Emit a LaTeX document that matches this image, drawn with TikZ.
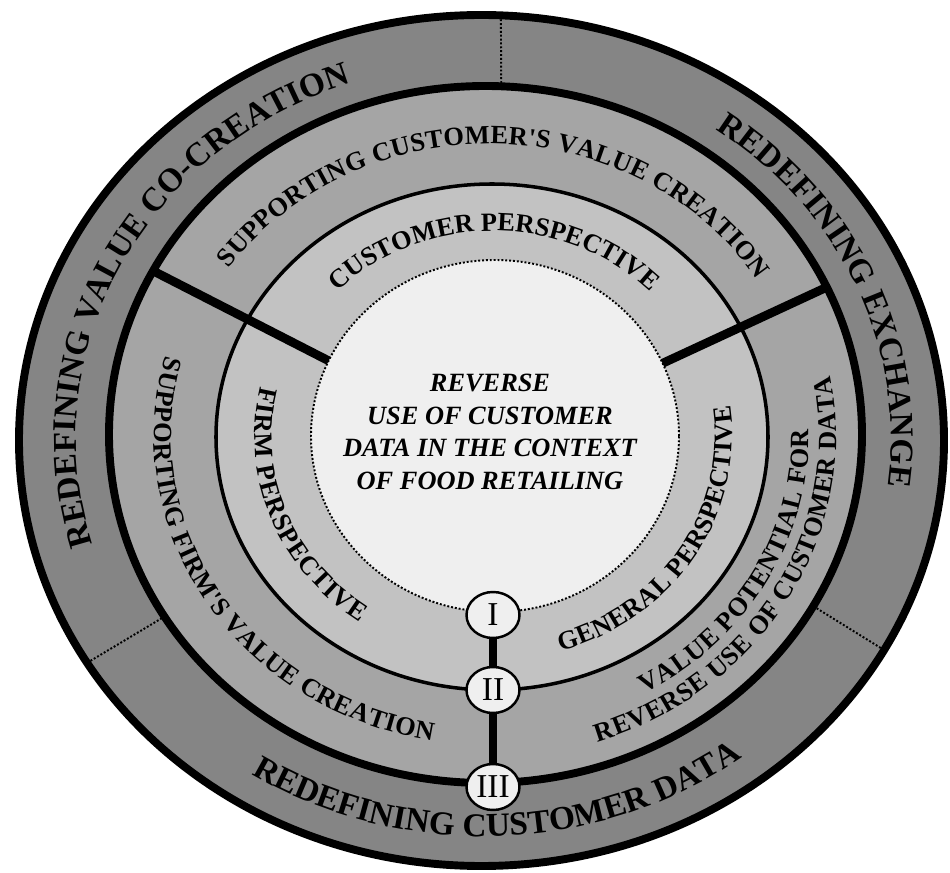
\documentclass[tikz,border=0pt]{standalone}
\usepackage{fontspec}
\setmainfont{Liberation Serif}[Ligatures=TeXOff]
\usetikzlibrary{decorations.text,shapes.geometric}

\definecolor{outerGray}{HTML}{858585}
\definecolor{midGray}{HTML}{A5A5A5}
\definecolor{innerGray}{HTML}{C2C2C2}
\definecolor{coreGray}{HTML}{EFEFEF}

\newcommand\bandfont{\bfseries\fontsize{19}{23}\selectfont}
\newcommand\ringfont{\bfseries\fontsize{15}{18}\selectfont}
\newcommand\corefont{\bfseries\itshape\fontsize{15}{18.6}\selectfont}
\newcommand\numfont{\fontsize{19}{21}\selectfont}

\newcommand\arctext[6]{%
  \path[decorate, decoration={text along path, text align=fit to path, text={#6}}]
    (#1) ++(#2:#4 and #5) arc[start angle=#2, end angle=#3, x radius=#4, y radius=#5];}

\begin{document}
\begin{tikzpicture}[
    thickring/.style={line width=4.5pt},
    thinring/.style={line width=2pt},
    dotring/.style={line width=1.1pt, dash pattern=on 1.1pt off 1.1pt},
    divider/.style={line width=5pt},
    stage/.style={ellipse, draw, line width=1.4pt, fill=coreGray,
        minimum width=1.06cm, minimum height=0.92cm, inner sep=0pt, font=\numfont}
  ]
  \fill[white] (-9.8,-8.7) rectangle (9.2,8.74);
  \useasboundingbox (-9.8,-8.7) rectangle (9.2,8.74);

  \coordinate (c1) at (-0.17,-0.07);
  \coordinate (c2) at (-0.09,0.05);
  \coordinate (c3) at (0.04,0);
  \coordinate (c4) at (0.10,0.02);
  \coordinate (cA) at (-0.13,-0.01);
  \coordinate (cB) at (-0.02,0.02);
  \coordinate (cC) at (0.07,0.01);

  \draw[thickring, fill=outerGray] (c1) ellipse[x radius=9.25cm, y radius=8.51cm];
  \draw[thickring, fill=midGray] (c2) ellipse[x radius=7.53cm, y radius=6.97cm];
  \draw[thinring, fill=innerGray] (c3) ellipse[x radius=5.52cm, y radius=5.06cm];
  \draw[dotring, fill=coreGray] (c4) ellipse[x radius=3.68cm, y radius=3.52cm];

  \path (c1) ++(87.6:9.25cm and 8.51cm) coordinate (top1);
  \path (c2) ++(87.6:7.53cm and 6.97cm) coordinate (top2);
  \path (c1) ++(211.5:9.25cm and 8.51cm) coordinate (left1);
  \path (c2) ++(211.5:7.53cm and 6.97cm) coordinate (left2);
  \path (c1) ++(-29.5:9.25cm and 8.51cm) coordinate (right1);
  \path (c2) ++(-29.5:7.53cm and 6.97cm) coordinate (right2);
  \path (c2) ++(152:7.53cm and 6.97cm) coordinate (firm2);
  \path (c4) ++(154.7:3.68cm and 3.52cm) coordinate (firm4);
  \path (c2) ++(25:7.53cm and 6.97cm) coordinate (cust2);
  \path (c4) ++(24.4:3.68cm and 3.52cm) coordinate (cust4);

  \draw[dotring] (top1) -- (top2);
  \draw[dotring] (left1) -- (left2);
  \draw[dotring] (right1) -- (right2);
  \draw[divider] (firm2) -- (firm4);
  \draw[divider] (cust2) -- (cust4);

  \arctext{cA}{196.5}{109}{8.15cm}{7.50cm}{|\bandfont|REDEFINING VALUE CO-CREATION}
  \arctext{cA}{55.3}{-7.5}{8.15cm}{7.50cm}{|\bandfont|REDEFINING EXCHANGE}
  \arctext{cA}{237.5}{306.8}{8.63cm}{7.98cm}{|\bandfont|REDEFINING CUSTOMER DATA}

  \arctext{cB}{145}{32.4}{6.35cm}{5.84cm}{|\ringfont|SUPPORTING CUSTOMER'S VALUE CREATION}
  \arctext{cB}{165}{260.3}{6.70cm}{6.19cm}{|\ringfont|SUPPORTING FIRM'S VALUE CREATION}
  \arctext{cB}{-61}{1.3}{6.40cm}{5.89cm}{|\ringfont|VALUE POTENTIAL FOR}
  \arctext{cB}{-71.8}{10.8}{6.95cm}{6.44cm}{|\ringfont|REVERSE USE OF CUSTOMER DATA}

  \arctext{cC}{135}{45.4}{4.42cm}{4.11cm}{|\ringfont|CUSTOMER PERSPECTIVE}
  \arctext{cC}{167}{236}{4.78cm}{4.47cm}{|\ringfont|FIRM PERSPECTIVE}
  \arctext{cC}{-73.7}{8}{4.78cm}{4.47cm}{|\ringfont|GENERAL PERSPECTIVE}

  \node[align=center, font=\corefont] (core) at (0,0.1)
    {REVERSE\\USE OF CUSTOMER\\DATA IN THE CONTEXT\\OF FOOD RETAILING};

  \node[stage] (s1) at (0.06,-3.56) {I};
  \node[stage] (s2) at (0.06,-5.06) {II};
  \node[stage] (s3) at (0.06,-7.0) {III};
  \draw[divider] (s1) -- (s2);
  \draw[divider] (s2) -- (s3);
\end{tikzpicture}
\end{document}
